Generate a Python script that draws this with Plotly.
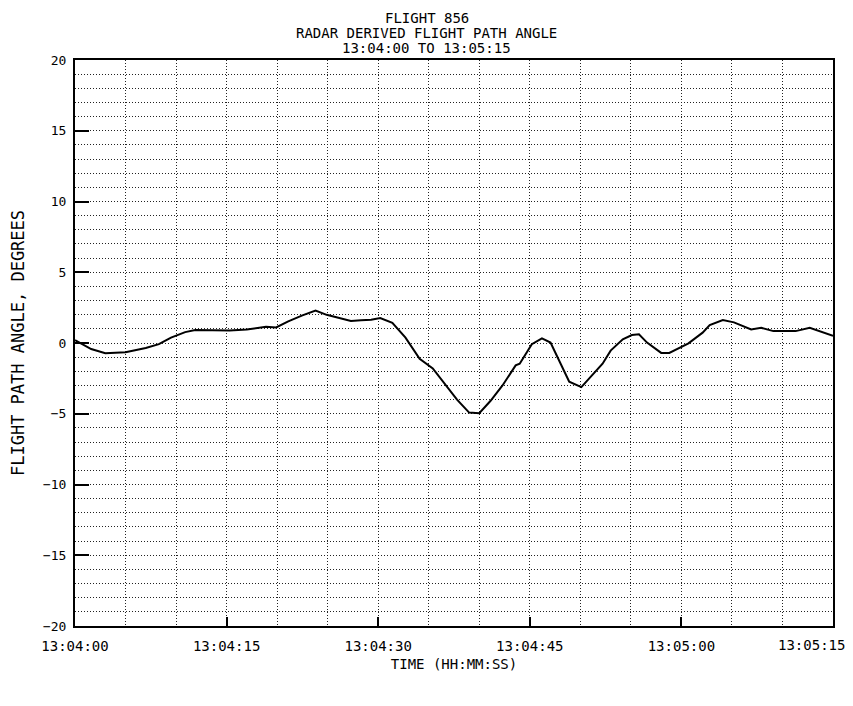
import plotly.graph_objects as go

# flight path angle (seconds after 13:04:00, degrees)
time_s = [0.0, 1.6, 3.0, 5.0, 7.0, 8.3, 9.5, 10.9, 11.9, 13.6, 15.3, 17.0,
          18.9, 19.9, 21.1, 22.5, 23.8, 24.9, 26.2, 27.3, 28.3, 29.3, 30.2,
          31.4, 32.7, 34.1, 35.4, 36.8, 37.8, 39.0, 40.0, 41.1, 42.3, 43.6,
          44.0, 45.2, 46.2, 47.05, 47.9, 48.9, 50.1, 51.0, 52.2, 53.0, 54.2,
          55.1, 55.8, 56.6, 58.0, 58.8, 60.7, 62.1, 62.8, 64.1, 65.2, 66.9,
          67.9, 69.1, 71.3, 72.7, 75.0]
angle_deg = [0.2, -0.43, -0.73, -0.66, -0.35, -0.08, 0.38, 0.77, 0.91, 0.91,
             0.88, 0.95, 1.15, 1.1, 1.53, 1.95, 2.3, 1.99, 1.76, 1.55, 1.6,
             1.65, 1.76, 1.42, 0.38, -1.12, -1.8, -3.07, -4.0, -4.92, -4.96,
             -4.1, -3.0, -1.58, -1.46, -0.08, 0.33, 0.03, -1.23, -2.73, -3.12,
             -2.38, -1.46, -0.54, 0.26, 0.56, 0.61, 0.03, -0.7, -0.7, -0.03,
             0.73, 1.26, 1.62, 1.46, 0.96, 1.07, 0.84, 0.84, 1.07, 0.5]

x_tickvals = [0, 15, 30, 45, 60, 75]
x_ticktext = ['13:04:00', '13:04:15', '13:04:30', '13:04:45', '13:05:00', '13:05:15']
y_tickvals = [20, 15, 10, 5, 0, -5, -10, -15, -20]
title_lines = ['FLIGHT 856', 'RADAR DERIVED FLIGHT PATH ANGLE', '13:04:00 TO 13:05:15']

FONT = 'DejaVu Sans Mono'
GRID = dict(gridcolor='#222', gridwidth=1, griddash='1px,2px')
# page body keeps its default 8px margin, so the figure is sized to what is visible
W, H = 845, 698
M = dict(l=67, r=20, t=52, b=80)

fig = go.Figure()
fig.add_trace(go.Scatter(x=time_s, y=angle_deg, mode='lines',
                         line=dict(color='black', width=2),
                         showlegend=False))

# three title lines, centred on the page, tight spacing like the plotter output
title_x = ((W + 8) / 2 - 8 - M['l']) / (W - M['l'] - M['r'])
for i, line in enumerate(title_lines):
    fig.add_annotation(text=line, xref='paper', yref='paper', x=title_x, y=1,
                       xanchor='center', yanchor='middle', showarrow=False,
                       yshift=42 - 15 * i,
                       font=dict(family=FONT, size=14, color='black'))

# last time label sits flush with the page edge in the original, so it is
# drawn separately instead of centred on its tick
labels_on_axis = x_ticktext[:-1] + ['']
fig.add_annotation(text=x_ticktext[-1], x=x_tickvals[-1], xref='x',
                   y=0, yref='paper', xanchor='right', yanchor='middle',
                   xshift=M['r'] - 6, yshift=-19, showarrow=False,
                   font=dict(family=FONT, size=14, color='black'))

fig.update_layout(
    width=W, height=H,
    paper_bgcolor='white', plot_bgcolor='white',
    margin=M,
    font=dict(family=FONT, color='black', size=13),
)
fig.update_xaxes(
    range=[0, 75], tickvals=x_tickvals, ticktext=labels_on_axis,
    showline=True, linecolor='black', linewidth=2, mirror=True,
    ticks='inside', ticklen=9, tickcolor='black', tickwidth=1.5,
    showgrid=True, **GRID,
    minor=dict(dtick=5, showgrid=True, **GRID),
    zeroline=False, automargin=False, ticklabelstandoff=6,
    title=dict(text='TIME (HH:MM:SS)', standoff=6, font=dict(size=14)),
    tickfont=dict(size=14),
)
fig.update_yaxes(
    range=[-20, 20], tickvals=y_tickvals,
    showline=True, linecolor='black', linewidth=2, mirror=True,
    ticks='inside', ticklen=14, tickcolor='black', tickwidth=1.5,
    showgrid=True, **GRID,
    minor=dict(dtick=1, showgrid=True, **GRID),
    zeroline=False, automargin=False, ticklabelstandoff=4,
    title=dict(text='FLIGHT PATH ANGLE, DEGREES', standoff=16, font=dict(size=17)),
    tickfont=dict(size=13),
)

fig.write_html('out.html')
